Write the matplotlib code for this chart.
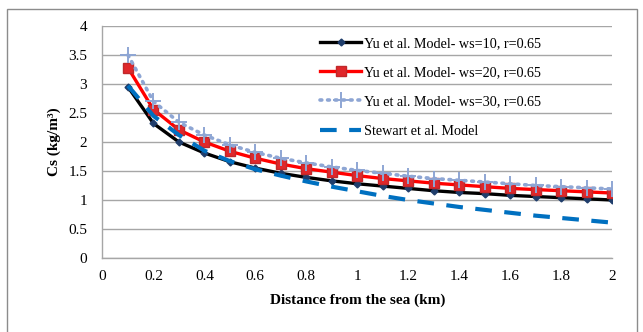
import matplotlib.pyplot as plt
from matplotlib.patches import Rectangle

plt.rcParams['font.family'] = ['Liberation Serif', 'DejaVu Serif']

# ── Data ────────────────────────────────────────────────────────────────────
distance = [0.1, 0.2, 0.3, 0.4, 0.5, 0.6, 0.7, 0.8, 0.9, 1.0,
            1.1, 1.2, 1.3, 1.4, 1.5, 1.6, 1.7, 1.8, 1.9, 2.0]
yu_ws10 = [2.95, 2.32, 2.00, 1.81, 1.66, 1.55, 1.46, 1.39, 1.33, 1.28,
           1.24, 1.20, 1.16, 1.13, 1.11, 1.08, 1.06, 1.04, 1.02, 1.00]
yu_ws20 = [3.28, 2.56, 2.21, 2.00, 1.84, 1.72, 1.62, 1.54, 1.48, 1.42,
           1.37, 1.33, 1.29, 1.26, 1.23, 1.20, 1.18, 1.16, 1.14, 1.12]
yu_ws30 = [3.50, 2.70, 2.34, 2.12, 1.95, 1.82, 1.72, 1.64, 1.57, 1.51,
           1.46, 1.41, 1.37, 1.34, 1.31, 1.28, 1.25, 1.23, 1.21, 1.19]
stewart = [2.97, 2.45, 2.12, 1.85, 1.67, 1.53, 1.42, 1.32, 1.23, 1.15,
           1.07, 1.00, 0.94, 0.88, 0.83, 0.78, 0.73, 0.69, 0.65, 0.61]

x_ticks = [0, 0.2, 0.4, 0.6, 0.8, 1, 1.2, 1.4, 1.6, 1.8, 2]
x_labels = ["0", "0.2", "0.4", "0.6", "0.8", "1", "1.2", "1.4", "1.6", "1.8", "2"]
y_ticks = [0, 0.5, 1, 1.5, 2, 2.5, 3, 3.5, 4]
y_labels = ["0", "0.5", "1", "1.5", "2", "2.5", "3", "3.5", "4"]

# ── Figure ──────────────────────────────────────────────────────────────────
fig = plt.figure(figsize=(6.43, 3.32), dpi=100)
fig.patches.append(Rectangle((7 / 643, -0.05), 630 / 643, 1.05 - 9 / 332,
                             transform=fig.transFigure, fill=False,
                             edgecolor="#8c8c8c", linewidth=1.0))
ax = fig.add_axes([0.1594, 0.2229, 0.7924, 0.6988])

ax.plot(distance, yu_ws10, color="black", lw=2.4, marker="D", markersize=3.5,
        markerfacecolor="#1f3d6b", markeredgecolor="#1f3d6b",
        label="Yu et al. Model- ws=10, r=0.65", zorder=3)
ax.plot(distance, yu_ws20, color="#ff0000", lw=2.4, marker="s", markersize=7,
        markerfacecolor="#e0272b", markeredgecolor="#c0282a",
        label="Yu et al. Model- ws=20, r=0.65", zorder=4)
ax.plot(distance, yu_ws30, color="#8ea6d4", lw=2.6, linestyle=(0, (0.5, 1.6)),
        dash_capstyle="round", marker="+", markersize=11, markeredgewidth=1.4,
        markeredgecolor="#8ea6d4",
        label="Yu et al. Model- ws=30, r=0.65", zorder=5)
ax.plot(distance, stewart, color="#0070c0", lw=3.0, linestyle=(0, (4, 3)),
        label="Stewart et al. Model", zorder=6)

# ── Axis styling ────────────────────────────────────────────────────────────
ax.set_xlim(0, 2)
ax.set_ylim(0, 4)
ax.set_xticks(x_ticks)
ax.set_xticklabels(x_labels)
ax.set_yticks(y_ticks)
ax.set_yticklabels(y_labels)
ax.tick_params(axis="both", length=0, labelsize=11, colors="black")
ax.tick_params(axis="y", pad=11)
ax.tick_params(axis="x", pad=9)
ax.grid(axis="y", color="#a6a6a6", linewidth=1.0)
ax.set_axisbelow(True)
for s in ["top", "right"]:
    ax.spines[s].set_visible(False)
for s in ["left", "bottom"]:
    ax.spines[s].set_color("#a6a6a6")
    ax.spines[s].set_linewidth(1.0)

ax.set_xlabel("Distance from the sea (km)", fontsize=11, fontweight="bold",
              labelpad=7)
ax.set_ylabel("Cs (kg/m³)", fontsize=11, fontweight="bold", labelpad=5)

ax.legend(loc="upper left", bbox_to_anchor=(0.415, 0.978), frameon=False,
          fontsize=10.2, numpoints=1, handlelength=2.95, handletextpad=0.2,
          labelspacing=1.15, borderaxespad=0)

fig.savefig("out.png", dpi=100)
